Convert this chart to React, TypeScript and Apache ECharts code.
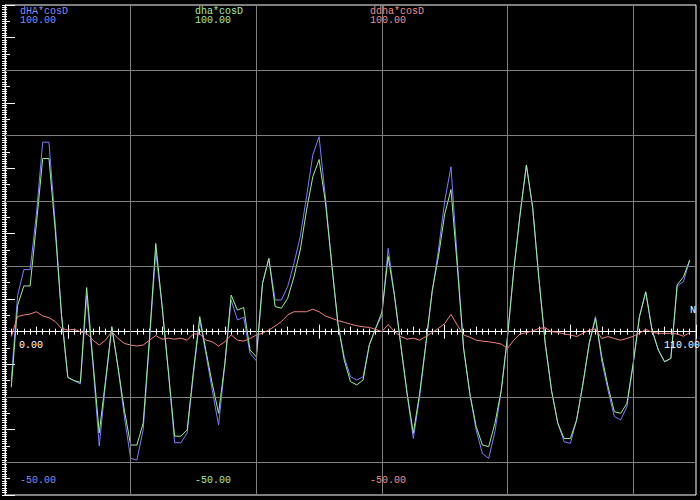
import React, { useEffect, useRef } from "react";
import * as echarts from "echarts";

// N index of the first plotted point (points are consecutive N values)
const N_START = 1;

// dHA*cosD (blue)
const dHA = [
  -15, 11, 19, 19, 36, 58, 58, 33, 5, -14,
  -15, -16, 11, -10, -35, -16, 1.5, -11, -26, -38.8,
  -39.3, -30, -3, 24.5, 8, -12, -34, -34, -31, -13,
  3.6, -7, -18, -28.6, -10, 9.7, 3.6, 4.4, -6.6, -8.9,
  14.8, 22.4, 9.7, 9.7, 13.8, 20.9, 29.1, 41.3, 54.1, 59.7,
  41.3, 20.9, 2.5, -7.7, -13.8, -14.8, -13.8, -4, 1, 5,
  25.5, 11, -4, -19, -32.7, -20, -4, 12, 25, 40,
  50.5, 22, -5, -19, -30.1, -37.3, -38.8, -30.6, -18, -1.5,
  19, 36, 51, 38, 16, -3.6, -18, -28, -33.7, -34.2,
  -27, -16, -3.6, 4.6, -9, -18, -26, -27, -23, -10,
  4.6, 12.2, 0.5, -5.6, -9.2, -8.2, 14, 15.3, 21.9,
];

// dha*cosD (green)
const dha = [
  -17, 8, 14, 14, 33, 53, 53, 31, 5, -14,
  -15, -15.5, 13.5, -9, -31, -15, 1.5, -11, -24, -34.7,
  -34.7, -28, -2, 27, 8, -12, -32, -32, -30, -12,
  4.6, -6, -16, -25, -9.7, 11.2, 6.6, 7.4, -5.6, -7.7,
  14.8, 22.4, 7.7, 7.2, 10.2, 16.8, 25, 37.2, 47.4, 52.7,
  39.8, 20.9, 2.5, -8.7, -15.3, -16.3, -14.8, -4, 1, 6,
  23, 11, -4, -18.7, -31.1, -19, -3.6, 12.5, 23, 36,
  43.5, 20, -5, -19, -29, -34.7, -35.2, -28, -18, -1.5,
  19, 36, 51, 38, 16, -3.6, -18, -28, -32.7, -32.7,
  -27, -16, -3.6, 4.1, -7.7, -16.8, -24.5, -25, -22, -9.7,
  4.6, 12.2, 0.5, -5.6, -9.2, -8.2, 14.3, 16.8, 21.9,
];

// ddha*cosD (red)
const ddha = [
  -1.5, 4.6, 5.1, 5.4, 6.1, 4.8, 4.3, 3.1, 1, 0.5,
  0.7, 0, -0.5, -2.6, -4.1, -2.6, 0, -2.1, -3.6, -4.1,
  -4.4, -4.1, -2.6, -1.2, -2.3, -2, -2.3, -2, -2.6, -0.7,
  -0.7, -2.6, -3.1, -4.4, -3.1, -1, -2.6, -2.9, -2.1, -1,
  -0.5, 0.5, 1.7, 3.1, 5.1, 6.1, 6.1, 6.1, 6.9, 6.1,
  4.8, 4.1, 3.4, 2.9, 2.3, 1.8, 1.5, 1.3, 0.7, 0,
  2.2, 0, -1.5, -2.3, -2, -2.6, -1.5, -0.3, 1, 2.5,
  5.3, 2, -1, -1.7, -2.6, -2.9, -3.1, -3.4, -3.8, -5.1,
  -2.6, -0.7, -0.3, 0.2, 1, 1.2, 0, -0.2, -0.7, -1,
  -1.5, -0.5, 0.5, 0.8, -2.1, -1.5, -2.1, -2.6, -2.1, -1.4,
  -0.5, 0.7, -0.2, -0.5, -0.5, -0.5, -0.7, -1.4, -0.3,
];

const seriesNames = ["dHA*cosD", "dha*cosD", "ddha*cosD"];
const seriesColors = ["#7c7cff", "#98f098", "#f08080"];
const textColors = ["#8a8aef", "#a6eaa6", "#ee9090"];
const seriesData = [dHA, dha, ddha];
const yMaxLabels = ["100.00", "100.00", "100.00"];
const yMinLabels = ["-50.00", "-50.00", "-50.00"];
const xMinLabel = "0.00";
const xMaxLabel = "110.00";
const xName = "N";

const X_MIN = 0;
const X_MAX = 110;
const Y_MIN = -50;
const Y_MAX = 100;
const gridXValues = [20, 40, 60, 80, 100];
const gridYValues = [-40, -20, 20, 40, 60, 80];

const FONT = '10px "Liberation Mono", "DejaVu Sans Mono", monospace';
const WHITE = "#ffffff";
const GRID_GREY = "#808080";

export default function App() {
  const ref = useRef<HTMLDivElement | null>(null);

  useEffect(() => {
    if (!ref.current) return;
    const chart = echarts.init(ref.current, undefined, { renderer: "svg" });

    const tickStyle = { color: WHITE, width: 1 };
    const xBase = {
      type: "value" as const,
      min: X_MIN,
      max: X_MAX,
      position: "bottom" as const,
      axisLabel: { show: false },
      splitLine: { show: false },
      z: 2,
    };
    const yBase = {
      type: "value" as const,
      min: Y_MIN,
      max: Y_MAX,
      position: "left" as const,
      axisLabel: { show: false },
      splitLine: { show: false },
      z: 2,
    };

    const labelX = [20, 195, 370];
    const graphicEls: any[] = [];
    seriesNames.forEach((name, i) => {
      graphicEls.push({
        type: "text", x: labelX[i], y: 11, silent: true, z: 10,
        style: { text: name, fill: textColors[i], font: FONT, verticalAlign: "middle", align: "left" },
      });
      graphicEls.push({
        type: "text", x: labelX[i], y: 20.5, silent: true, z: 10,
        style: { text: yMaxLabels[i], fill: textColors[i], font: FONT, verticalAlign: "middle", align: "left" },
      });
      graphicEls.push({
        type: "text", x: labelX[i], y: 480.5, silent: true, z: 10,
        style: { text: yMinLabels[i], fill: textColors[i], font: FONT, verticalAlign: "middle", align: "left" },
      });
    });
    graphicEls.push({
      type: "text", x: 19, y: 345.5, silent: true, z: 10,
      style: { text: xMinLabel, fill: WHITE, font: FONT, verticalAlign: "middle", align: "left" },
    });
    graphicEls.push({
      type: "text", x: 664, y: 345, silent: true, z: 10,
      style: { text: xMaxLabel, fill: WHITE, font: FONT, verticalAlign: "middle", align: "left" },
    });
    graphicEls.push({
      type: "text", x: 690, y: 310, silent: true, z: 10,
      style: { text: xName, fill: WHITE, font: FONT, verticalAlign: "middle", align: "left" },
    });

    const option: any = {
      animation: false,
      backgroundColor: "#000000",
      grid: {
        left: 5,
        right: 4,
        top: 5,
        bottom: 5,
        show: true,
        borderColor: WHITE,
        borderWidth: 1,
        backgroundColor: "transparent",
        containLabel: false,
      },
      xAxis: [
        {
          ...xBase,
          interval: 10,
          axisLine: { show: true, onZero: true, onZeroAxisIndex: 0, lineStyle: { color: WHITE, width: 1 } },
          axisTick: { show: true, inside: true, length: 7, lineStyle: tickStyle },
        },
        {
          ...xBase,
          interval: 10,
          axisLine: { show: false, onZero: true, onZeroAxisIndex: 0 },
          axisTick: { show: true, inside: false, length: 7, lineStyle: tickStyle },
          minorTick: { show: true, splitNumber: 10, length: 3, lineStyle: tickStyle },
        },
        {
          ...xBase,
          interval: 5,
          axisLine: { show: false, onZero: true, onZeroAxisIndex: 0 },
          axisTick: { show: true, inside: true, length: 5, lineStyle: tickStyle },
          minorTick: { show: true, splitNumber: 5, length: 3, lineStyle: tickStyle },
        },
      ],
      yAxis: [
        {
          ...yBase,
          interval: 10,
          axisLine: { show: true, onZero: false, lineStyle: { color: WHITE, width: 1 } },
          axisTick: { show: true, inside: true, length: 10, lineStyle: tickStyle },
        },
        {
          ...yBase,
          interval: 5,
          axisLine: { show: false, onZero: false },
          axisTick: { show: true, inside: true, length: 5, lineStyle: tickStyle },
          minorTick: { show: true, splitNumber: 7, length: 2, lineStyle: tickStyle },
        },
        {
          ...yBase,
          interval: 5,
          axisLine: { show: false, onZero: false },
          axisTick: { show: true, inside: false, length: 3, lineStyle: tickStyle },
          minorTick: { show: true, splitNumber: 7, length: 3, lineStyle: tickStyle },
        },
      ],
      series: [
        {
          name: "grid",
          type: "line",
          xAxisIndex: 0,
          yAxisIndex: 0,
          data: [[X_MIN, 0]],
          symbol: "none",
          showSymbol: false,
          lineStyle: { opacity: 0 },
          silent: true,
          z: 1,
          markLine: {
            silent: true,
            symbol: ["none", "none"],
            label: { show: false },
            emphasis: { disabled: true },
            lineStyle: { color: GRID_GREY, width: 1, type: "solid" },
            animation: false,
            data: [
              ...gridXValues.map((v) => ({ xAxis: v })),
              ...gridYValues.map((v) => ({ yAxis: v })),
            ],
          },
        },
        ...seriesData.map((arr, i) => ({
          name: seriesNames[i],
          type: "line",
          xAxisIndex: 0,
          yAxisIndex: 0,
          data: arr.map((v, k) => [N_START + k, v]),
          symbol: "none",
          showSymbol: false,
          silent: true,
          z: 3,
          lineStyle: { color: seriesColors[i], width: 1 },
          itemStyle: { color: seriesColors[i] },
        })),
      ],
      graphic: { elements: graphicEls },
    };

    chart.setOption(option);
    return () => {
      chart.dispose();
    };
  }, []);

  return (
    <div
      ref={ref}
      style={{ position: "fixed", left: 0, top: 0, width: 700, height: 500, background: "#000" }}
    />
  );
}
